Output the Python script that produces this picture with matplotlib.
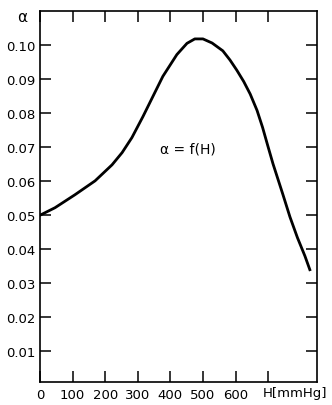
import matplotlib
matplotlib.use("Agg")
import matplotlib.pyplot as plt
import matplotlib.transforms as mtransforms

# values
pressure = [0, 46, 107, 169, 221, 252, 282, 316, 347, 377, 420, 451, 475, 500,
            528, 561, 583, 604, 625, 645, 666, 683, 699, 715, 745, 767, 790, 813, 828]
alpha = [0.0500, 0.0522, 0.0560, 0.0601, 0.0648, 0.0684, 0.0728, 0.0790, 0.0850,
         0.0908, 0.0972, 0.1005, 0.1018, 0.1018, 0.1006, 0.0983, 0.0956, 0.0926,
         0.0893, 0.0856, 0.0808, 0.0758, 0.0704, 0.0651, 0.0562, 0.0495, 0.0434,
         0.0380, 0.0340]

x_ticks = [0, 100, 200, 300, 400, 500, 600, 700]
x_labels = ["0", "100", "200", "300", "400", "500", "600", ""]
y_ticks = [0.01, 0.02, 0.03, 0.04, 0.05, 0.06, 0.07, 0.08, 0.09, 0.10]
y_labels = ["0.01", "0.02", "0.03", "0.04", "0.05", "0.06", "0.07", "0.08", "0.09", "0.10"]

plt.rcParams['font.family'] = ['DejaVu Sans']

fig = plt.figure(figsize=(3.32, 4.06), dpi=100)
ax = fig.add_axes([40 / 332, 23 / 406, 277 / 332, 371 / 406])

ax.plot(pressure, alpha, color='black', lw=2.0, solid_joinstyle='round')

ax.set_xlim(0, 850)
ax.set_ylim(0.001, 0.110)

ax.set_xticks(x_ticks)
ax.set_xticklabels(x_labels)
ax.set_yticks(y_ticks)
ax.set_yticklabels(y_labels)

ax.tick_params(direction='in', length=8, width=1.1, top=True, right=True,
               labelsize=9.5, pad=3, colors='black')
ax.tick_params(axis='x', pad=4)
for s in ax.spines.values():
    s.set_linewidth(1.2)

# axis annotations
trans = mtransforms.blended_transform_factory(ax.transData, ax.transAxes)
ax.text(682, -0.012, "H[mmHg]", transform=trans, ha='left', va='top', fontsize=9.5)
ax.text(-0.045, 0.985, "α", transform=ax.transAxes, ha='right', va='center', fontsize=11)
ax.text(455, 0.0695, "α = f(H)", ha='center', va='center', fontsize=10)

fig.savefig("out.png", dpi=100)
